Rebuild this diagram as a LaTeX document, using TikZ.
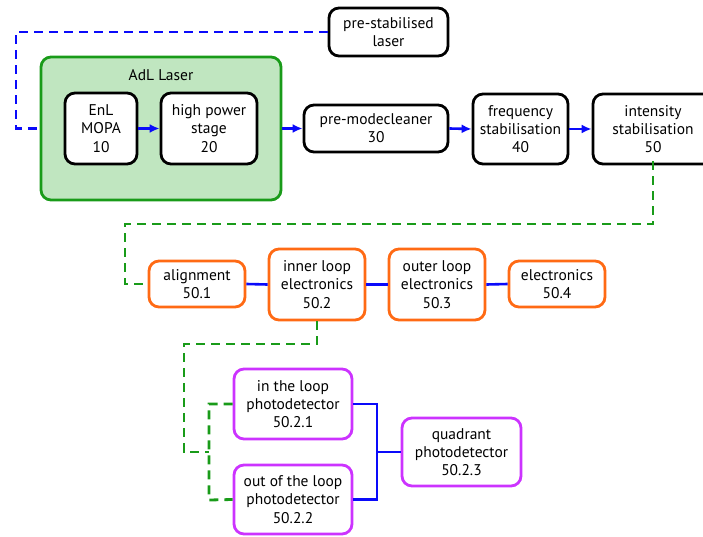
\documentclass[tikz,border=0pt]{standalone}
\usepackage{fontspec}
\setmainfont{PT Sans}
\usetikzlibrary{arrows.meta}
\definecolor{myblue}{RGB}{10,10,250}
\definecolor{mygreen}{RGB}{25,155,25}
\definecolor{greenfill}{RGB}{192,230,192}
\definecolor{myorange}{RGB}{255,106,20}
\definecolor{mymag}{RGB}{204,51,255}
\begin{document}
\begin{tikzpicture}[x=1pt,y=-1pt,
  txt/.style={font=\fontsize{15.5}{18.3}\selectfont, align=center},
  box/.style={txt, draw=black, line width=2.8pt, rounded corners=10pt, inner sep=0pt, fill=white},
  obox/.style={box, draw=myorange},
  mbox/.style={box, draw=mymag},
  bluedash/.style={draw=myblue, line width=2.8pt, dash pattern=on 9pt off 6pt},
  greendash/.style={draw=mygreen, line width=2.8pt, dash pattern=on 9pt off 6pt},
  barrow/.style={draw=myblue, line width=2.6pt, -{Latex[length=10pt,width=9pt]}},
  bline/.style={draw=myblue, line width=2.6pt}]
\useasboundingbox (0,0) rectangle (703,537);
\clip (0,0) rectangle (703,537);

\node[draw=mygreen, fill=greenfill, line width=2.8pt, rounded corners=10pt, minimum width=240pt, minimum height=143pt, inner sep=0pt] (adl) at (161,128.5) {};
\node[txt] (adlt) at (161,75) {AdL Laser};

\node[box, minimum width=119pt, minimum height=48pt] (psl) at (388.5,32) {pre-stabilised\\laser};
\node[box, minimum width=72pt, minimum height=71pt] (mopa) at (101,128.5) {EnL\\MOPA\\10};
\node[box, minimum width=96pt, minimum height=71pt] (hps) at (209,128.5) {high power\\stage\\20};
\node[box, minimum width=144pt, minimum height=47pt] (pmc) at (376,128.5) {pre-modecleaner\\30};
\node[box, minimum width=95pt, minimum height=70pt] (freq) at (520.5,129) {frequency\\stabilisation\\40};
\node[box, minimum width=120pt, minimum height=70pt] (int) at (653,129) {intensity\\stabilisation\\50};

\node[obox, minimum width=96pt, minimum height=46pt] (al) at (197,284) {alignment\\50.1};
\node[obox, minimum width=96pt, minimum height=71pt] (ile) at (317,284.5) {inner loop\\electronics\\50.2};
\node[obox, minimum width=96pt, minimum height=71pt] (ole) at (437,284.5) {outer loop\\electronics\\50.3};
\node[obox, minimum width=96pt, minimum height=46pt] (el) at (557,284) {electronics\\50.4};

\node[mbox, minimum width=118pt, minimum height=70pt] (itl) at (293,404) {in the loop\\photodetector\\50.2.1};
\node[mbox, minimum width=118pt, minimum height=69pt] (otl) at (293,499.5) {out of the loop\\photodetector\\50.2.2};
\node[mbox, minimum width=119pt, minimum height=68pt] (qp) at (461.5,452) {quadrant\\photodetector\\50.2.3};

% top dashed blue
\coordinate (c1) at (16,32);
\draw[bluedash] (psl.west) -- (c1) |- (adl.west);

% arrows
\draw[barrow] (mopa.east) -- (hps.west);
\draw[barrow] (adl.east) -- (pmc.west);
\draw[barrow] (pmc.east) -- (freq.west);
\draw[barrow] (freq.east) -- (int.west);

% green dashed from intensity
\coordinate (g1) at (125,224);
\draw[greendash] ([yshift=4pt]int.south) |- (g1) |- (al.west);

% blue lines
\draw[bline] (al.east) -- (ile.west);
\draw[bline] (ile.east) -- (ole.west);
\draw[bline] (ole.east) -- (el.west);

% green dashed from inner loop
\coordinate (g2) at (184,344);
\coordinate (g3) at (209,452);
\draw[greendash] (ile.south) |- (g2) |- (g3);
\coordinate (g4) at (209,500);
\draw[greendash] (itl.west) -| (g4) -- (otl.west);

% blue to quadrant
\coordinate (b1) at (377,452);
\draw[bline] (itl.east) -| (b1) |- (otl.east);
\draw[bline] (b1) -- (qp.west);
\end{tikzpicture}
\end{document}
